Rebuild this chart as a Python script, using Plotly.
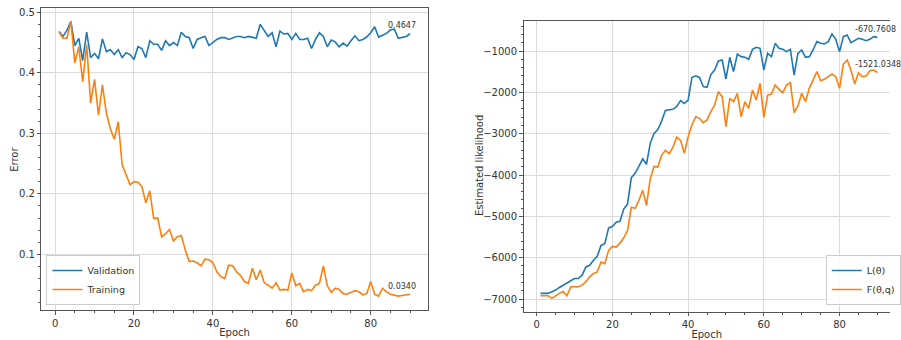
import plotly.graph_objects as go

epochs = list(range(1, 91))

validation = [0.468, 0.460, 0.470, 0.485, 0.445, 0.457, 0.420, 0.467, 0.425, 0.432,
              0.423, 0.456, 0.435, 0.438, 0.430, 0.438, 0.425, 0.433, 0.430, 0.422,
              0.443, 0.440, 0.425, 0.453, 0.447, 0.447, 0.437, 0.453, 0.445, 0.450,
              0.445, 0.467, 0.460, 0.458, 0.440, 0.455, 0.458, 0.460, 0.445, 0.450,
              0.455, 0.458, 0.458, 0.455, 0.458, 0.460, 0.460, 0.458, 0.460, 0.458,
              0.457, 0.480, 0.470, 0.460, 0.466, 0.443, 0.469, 0.464, 0.465, 0.455,
              0.465, 0.455, 0.455, 0.457, 0.440, 0.455, 0.466, 0.460, 0.443, 0.454,
              0.451, 0.443, 0.449, 0.444, 0.453, 0.461, 0.453, 0.455, 0.459, 0.466,
              0.476, 0.459, 0.462, 0.465, 0.471, 0.472, 0.457, 0.459, 0.460, 0.4647]

training = [0.467, 0.457, 0.457, 0.485, 0.416, 0.443, 0.385, 0.446, 0.350, 0.389,
            0.330, 0.380, 0.333, 0.308, 0.290, 0.319, 0.248, 0.231, 0.215, 0.220,
            0.219, 0.212, 0.185, 0.205, 0.159, 0.160, 0.129, 0.134, 0.141, 0.122,
            0.129, 0.131, 0.107, 0.088, 0.089, 0.086, 0.081, 0.092, 0.091, 0.086,
            0.071, 0.063, 0.060, 0.082, 0.081, 0.071, 0.065, 0.055, 0.052, 0.077,
            0.058, 0.074, 0.053, 0.049, 0.044, 0.053, 0.041, 0.042, 0.041, 0.069,
            0.048, 0.052, 0.038, 0.042, 0.040, 0.049, 0.052, 0.081, 0.048, 0.037,
            0.044, 0.042, 0.035, 0.034, 0.037, 0.040, 0.038, 0.033, 0.035, 0.055,
            0.034, 0.031, 0.044, 0.038, 0.034, 0.033, 0.031, 0.032, 0.033, 0.0340]

likelihood_L = [-6864, -6864, -6864, -6824, -6784, -6720, -6664, -6608, -6560, -6504,
                -6504, -6424, -6224, -6184, -6064, -5968, -5704, -5664, -5280, -5248,
                -5144, -5120, -4824, -4704, -4064, -3960, -3790, -3610, -3740, -3234,
                -2992, -2900, -2700, -2440, -2420, -2410, -2340, -2200, -2270, -2186,
                -1640, -1600, -1640, -1860, -1880, -1570, -1460, -1242, -1218, -1677,
                -1153, -1500, -1073, -1137, -1153, -1202, -960, -911, -935, -1460,
                -1056, -1137, -815, -935, -960, -1016, -960, -1581, -1056, -976,
                -1153, -1137, -976, -774, -815, -831, -774, -589, -718, -1016,
                -653, -613, -798, -750, -694, -718, -750, -718, -653, -670.7608]

free_energy_F = [-6920, -6920, -6920, -6984, -6920, -6864, -6816, -6920, -6704, -6704,
                 -6704, -6664, -6584, -6464, -6384, -6344, -6104, -6144, -5824, -5728,
                 -5744, -5648, -5520, -5344, -4780, -4806, -4613, -4371, -4734, -4090,
                 -3791, -3807, -3525, -3404, -3485, -3324, -3082, -3162, -3476, -3073,
                 -2790, -2589, -2629, -2734, -2670, -2468, -2307, -1984, -2105, -2831,
                 -2145, -2226, -2024, -2589, -2226, -2387, -1944, -2186, -1782, -2605,
                 -2065, -2040, -1823, -1927, -2008, -1823, -1766, -2492, -2331, -2024,
                 -2226, -1903, -1718, -1500, -1718, -1686, -1621, -1556, -1621, -1903,
                 -1315, -1218, -1460, -1798, -1524, -1621, -1605, -1476, -1460, -1521.0348]

BLUE = "#1f77b4"
ORANGE = "#ff7f0e"
FONT = "DejaVu Sans"
GRID = "#dcdcdc"
SPINE = "#555555"
TXT = "#333333"

fig = go.Figure()
fig.add_trace(go.Scatter(x=epochs, y=validation, mode="lines", name="Validation",
                         line=dict(color=BLUE, width=1.6), xaxis="x", yaxis="y", legend="legend"))
fig.add_trace(go.Scatter(x=epochs, y=training, mode="lines", name="Training",
                         line=dict(color=ORANGE, width=1.6), xaxis="x", yaxis="y", legend="legend"))
fig.add_trace(go.Scatter(x=epochs, y=likelihood_L, mode="lines", name="L(θ)",
                         line=dict(color=BLUE, width=1.6), xaxis="x2", yaxis="y2", legend="legend2"))
fig.add_trace(go.Scatter(x=epochs, y=free_energy_F, mode="lines", name="F(θ,q)",
                         line=dict(color=ORANGE, width=1.6), xaxis="x2", yaxis="y2", legend="legend2"))

W, H = 901, 340


def common_axis(**kw):
    d = dict(showline=True, linecolor=SPINE, linewidth=1, ticks="outside", ticklen=3.5,
             tickcolor=SPINE, tickwidth=1, showgrid=True, gridcolor=GRID, gridwidth=1,
             zeroline=False, automargin=False,
             tickfont=dict(family=FONT, size=10, color=TXT))
    d.update(kw)
    return d


fig.update_layout(
    width=W, height=H,
    template="none",
    paper_bgcolor="white", plot_bgcolor="white",
    margin=dict(l=0, r=0, t=0, b=0),
    font=dict(family=FONT, size=10, color=TXT),
    xaxis=common_axis(domain=[42 / W, 433 / W], range=[-3.45, 94.45], anchor="y",
                      tick0=0, dtick=20, mirror=True,
                      minor=dict(ticks="outside", ticklen=2, dtick=5, tickcolor=SPINE, showgrid=False),
                      title=dict(text="Epoch", standoff=1, font=dict(family=FONT, size=10, color=TXT))),
    yaxis=common_axis(domain=[1 - 310 / H, 1 - 8 / H], range=[0.008, 0.507], anchor="x",
                      tick0=0, dtick=0.1, mirror=True,
                      minor=dict(ticks="outside", ticklen=2, dtick=0.02, tickcolor=SPINE, showgrid=False)),
    xaxis2=common_axis(domain=[530 / W, 1.0], range=[-3.47, 93.32], anchor="y2",
                       tick0=0, dtick=20, mirror=True,
                       minor=dict(ticks="outside", ticklen=2, dtick=5, tickcolor=SPINE, showgrid=False),
                       title=dict(text="Epoch", standoff=1, font=dict(family=FONT, size=10, color=TXT))),
    yaxis2=common_axis(domain=[1 - 311.7 / H, 1 - 20.7 / H], range=[-7307, -267], anchor="x2",
                       tick0=0, dtick=1000, mirror=False,
                       minor=dict(ticks="outside", ticklen=2, dtick=200, tickcolor=SPINE, showgrid=False)),
    legend=dict(x=47 / W, y=1 - 305 / H, xanchor="left", yanchor="bottom",
                bgcolor="rgba(255,255,255,0.85)", bordercolor="#cccccc", borderwidth=1,
                font=dict(family=FONT, size=9.5, color=TXT), itemwidth=30,
                tracegroupgap=0),
    legend2=dict(x=836 / W, y=1 - 305 / H, xanchor="left", yanchor="bottom",
                 bgcolor="rgba(255,255,255,0.85)", bordercolor="#cccccc", borderwidth=1,
                 font=dict(family=FONT, size=9.5, color=TXT), itemwidth=30,
                 tracegroupgap=0),
    showlegend=True,
)

# y-axis titles placed like matplotlib's
fig.add_annotation(text="Error", xref="paper", yref="paper", x=14 / W, y=1 - 159 / H,
                   showarrow=False, textangle=-90, xanchor="center", yanchor="middle",
                   font=dict(family=FONT, size=10, color=TXT))
fig.add_annotation(text="Estimated likelihood", xref="paper", yref="paper", x=485 / W, y=1 - 166 / H,
                   showarrow=False, textangle=-90, xanchor="center", yanchor="middle",
                   font=dict(family=FONT, size=10, color=TXT))

ann_font = dict(family=FONT, size=8, color=TXT)
for xa, ya, series in [("x", "y", validation), ("x", "y", training),
                       ("x2", "y2", likelihood_L), ("x2", "y2", free_energy_F)]:
    fig.add_annotation(x=epochs[-1], y=series[-1], xref=xa, yref=ya,
                       text=f"{series[-1]:.4f}", showarrow=False,
                       xanchor="left", yanchor="middle", xshift=-24, yshift=8,
                       font=ann_font)

fig.write_html("out.html", config={"displayModeBar": False},
               post_script="document.body.style.margin='0px';document.body.style.overflow='hidden';")
